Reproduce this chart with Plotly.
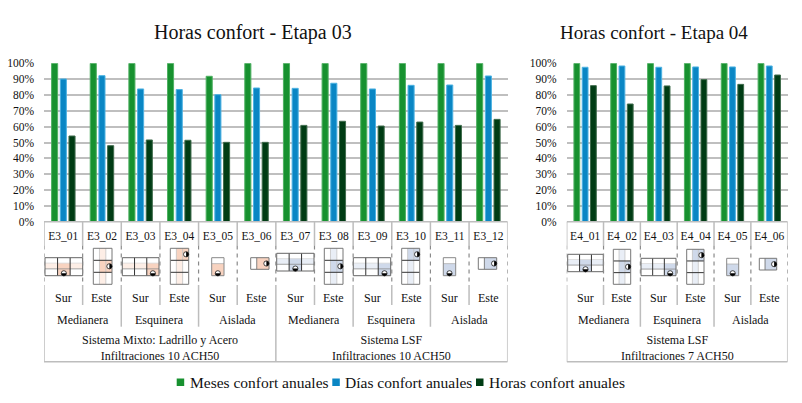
import plotly.graph_objects as go

W, H = 802, 403
OFF = 8  # the page keeps its 8px body margin
FONT = "Liberation Serif"

# data
labels_e3 = ["E3_01", "E3_02", "E3_03", "E3_04", "E3_05", "E3_06",
             "E3_07", "E3_08", "E3_09", "E3_10", "E3_11", "E3_12"]
meses_e3 = [100, 100, 100, 100, 91.8, 100, 100, 100, 100, 100, 100, 100]
dias_e3 = [90.1, 92.2, 83.8, 83.4, 80.2, 84.4, 84.2, 87.4, 83.8, 86.1, 86.3, 92]
horas_e3 = [54.1, 48, 51.6, 51.4, 50.1, 50.1, 60.8, 63.4, 60.4, 62.9, 60.8, 64.6]

labels_e4 = ["E4_01", "E4_02", "E4_03", "E4_04", "E4_05", "E4_06"]
meses_e4 = [100, 100, 100, 100, 100, 100]
dias_e4 = [97.5, 98.3, 97.5, 97.7, 97.7, 98.3]
horas_e4 = [85.9, 74.3, 85.7, 89.7, 86.7, 92.6]

orientaciones = ["Sur", "Este"]
tipologias = ["Medianera", "Esquinera", "Aislada"]
sistemas_e3 = ["Sistema Mixto: Ladrillo y Acero<br>Infiltraciones 10 ACH50",
               "Sistema LSF<br>Infiltraciones 10 ACH50"]
sistemas_e4 = ["Sistema LSF<br>Infiltraciones 7 ACH50"]
nombres = ["Meses confort anuales", "Días confort anuales", "Horas confort anuales"]

GREEN, BLUE, DARK = "#17912f", "#0a86c4", "#003c14"
GREEN_E, BLUE_E, DARK_E = "#4fb062", "#4db2e2", "#3f6b4c"

FIG_W, FIG_H = W - 2 * OFF, H - 2 * OFF


def px(x):
    return (x - OFF) / FIG_W


def py(y):
    return 1 - (y - OFF) / FIG_H


Y_TOP, Y_AXIS = 63.3, 221.7
Y_LBL, Y_DASH, Y_ORI, Y_TIP, Y_END = 245.5, 285, 305, 326.7, 361.7
ORANGE, ORANGE_L = "#f8d3c0", "#fdeee6"
LILAC, LILAC_L = "#cfd9ea", "#e9eef6"

# floor plan pictograms: x0, x1, y0, y1 (pixels), layout, cells, highlighted cell
plans_e3 = [
    (45, 82.7, 257.7, 275.7, "h", 3, 1, ORANGE, ORANGE_L),
    (93.3, 112, 248.3, 284.3, "v", 3, 1, ORANGE, ORANGE_L),
    (122.3, 159, 257.7, 275.7, "h", 3, 2, ORANGE, ORANGE_L),
    (170.3, 188.7, 248.3, 284.3, "v", 3, 0, ORANGE, ORANGE_L),
    (211.7, 224, 257.7, 275.7, "s", 1, 0, ORANGE, ORANGE_L),
    (250.7, 269, 257.7, 269.3, "e", 1, 0, ORANGE, ORANGE_L),
    (276.7, 314, 253.3, 271, "h", 3, 1, LILAC, LILAC_L),
    (324.3, 343, 248.3, 284.3, "v", 3, 1, LILAC, LILAC_L),
    (353.3, 390.7, 257.7, 275.7, "h", 3, 2, LILAC, LILAC_L),
    (401.7, 419.7, 248.3, 284.3, "v", 3, 0, LILAC, LILAC_L),
    (443.3, 455.7, 257.7, 275.7, "s", 1, 0, LILAC, LILAC_L),
    (478.3, 496.7, 257.7, 269.3, "e", 1, 0, LILAC, LILAC_L),
]
plans_e4 = [
    (567.7, 603.3, 254.3, 271.7, "h", 3, 1, LILAC, LILAC_L),
    (613.3, 630.7, 249.3, 284.3, "v", 3, 1, LILAC, LILAC_L),
    (641, 676, 258.3, 275.7, "h", 3, 2, LILAC, LILAC_L),
    (686.7, 704, 249.3, 284.3, "v", 3, 0, LILAC, LILAC_L),
    (726.7, 738.7, 258.3, 275.7, "s", 1, 0, LILAC, LILAC_L),
    (759.3, 776.7, 258.3, 270, "e", 1, 0, LILAC, LILAC_L),
]

shapes = []
annotations = []


def rect(x0, x1, y0, y1, fill=None, line=None, lw=1):
    shapes.append(dict(type="rect", xref="paper", yref="paper",
                       x0=px(x0), x1=px(x1), y0=py(y1), y1=py(y0),
                       fillcolor=fill or "rgba(0,0,0,0)",
                       line=dict(color=line or "rgba(0,0,0,0)", width=lw if line else 0)))


def seg(x0, x1, y0, y1, color, lw=1):
    shapes.append(dict(type="line", xref="paper", yref="paper",
                       x0=px(x0), x1=px(x1), y0=py(y0), y1=py(y1),
                       line=dict(color=color, width=lw)))


def label(x, y, text, size, xref="paper", xanchor="center"):
    annotations.append(dict(x=x, y=py(y), xref=xref, yref="paper", showarrow=False,
                            xanchor=xanchor, yanchor="middle", text=text,
                            font=dict(family=FONT, size=size, color="#111111")))


def sun_marker(cx, cy, side):
    # little half black circle, black half looks to the orientation
    r = 2.6
    shapes.append(dict(type="circle", xref="paper", yref="paper",
                       x0=px(cx - r), x1=px(cx + r), y0=py(cy + r), y1=py(cy - r),
                       fillcolor="white", line=dict(color="black", width=0.7)))
    if side == "s":
        pts = [(cx - r, cy), (cx - r * .87, cy + r * .5), (cx - r * .5, cy + r * .87), (cx, cy + r),
               (cx + r * .5, cy + r * .87), (cx + r * .87, cy + r * .5), (cx + r, cy)]
    else:
        pts = [(cx, cy - r), (cx + r * .5, cy - r * .87), (cx + r * .87, cy - r * .5), (cx + r, cy),
               (cx + r * .87, cy + r * .5), (cx + r * .5, cy + r * .87), (cx, cy + r)]
    path = "M" + "L".join(f"{px(a):.5f},{py(b):.5f}" for a, b in pts) + "Z"
    shapes.append(dict(type="path", xref="paper", yref="paper", path=path,
                       fillcolor="black", line=dict(width=0)))


def draw_plan(x0, x1, y0, y1, kind, n, hi, tint, tint_l):
    w, h = x1 - x0, y1 - y0
    if kind == "h":
        cw = w / n
        rect(x0, x1, y0 + h * .3, y0 + h * .62, fill=tint_l)
        rect(x0 + hi * cw, x0 + (hi + 1) * cw, y0 + h * .3, y1, fill=tint)
        seg(x0, x1, y0 + h * .3, y0 + h * .3, "#d9d9d9", .8)
        seg(x0, x1, y0 + h * .62, y0 + h * .62, "#8c8c8c", .8)
        for i in range(1, n):
            seg(x0 + i * cw, x0 + i * cw, y0, y1, "#333333", 1)
        rect(x0, x1, y0, y1, line="#666666")
        sun_marker(x0 + (hi + .5) * cw, y1 - 2.4, "s")
    elif kind == "v":
        ch = h / n
        rect(x0 + w * .33, x0 + w * .67, y0, y1, fill=tint_l)
        rect(x0 + w * .33, x1, y0 + hi * ch, y0 + (hi + 1) * ch, fill=tint)
        seg(x0 + w * .33, x0 + w * .33, y0, y1, "#c4c4c4", .8)
        seg(x0 + w * .67, x0 + w * .67, y0, y1, "#c4c4c4", .8)
        for i in range(1, n):
            seg(x0, x1, y0 + i * ch, y0 + i * ch, "#333333", 1)
        rect(x0, x1, y0, y1, line="#777777")
        sun_marker(x1 - 2.6, y0 + (hi + .5) * ch, "e")
    elif kind == "s":
        rect(x0, x1, y0 + h * .33, y1, fill=tint)
        seg(x0, x1, y0 + h * .33, y0 + h * .33, "#b0b0b0", .8)
        rect(x0, x1, y0, y1, line="#888888")
        sun_marker((x0 + x1) / 2, y1 - 2.4, "s")
    else:
        rect(x0 + w * .33, x1, y0, y1, fill=tint)
        seg(x0 + w * .33, x0 + w * .33, y0, y1, "#666666", .8)
        rect(x0, x1, y0, y1, line="#777777")
        sun_marker(x1 - 2.6, (y0 + y1) / 2, "e")


def draw_frame(xref, n_cat, sistemas, per_sys):
    """Lower hierarchical axis: separators tied to the category positions"""
    def vline(i, y0, y1, color="#bdbdbd", lw=1.5, dash="solid"):
        shapes.append(dict(type="line", xref=xref, yref="paper", x0=i - .5, x1=i - .5,
                           y0=py(y0), y1=py(y1), line=dict(color=color, width=lw, dash=dash)))

    for i in range(n_cat + 1):
        edge = i % per_sys == 0
        vline(i, Y_AXIS, Y_LBL)
        vline(i, Y_LBL, Y_DASH, color="#8a8a8a", lw=1.2, dash="4px,4px")
        if i % 2 == 0 or edge:
            vline(i, Y_DASH, Y_TIP if not edge else Y_END)
        else:
            vline(i, Y_DASH, Y_ORI)
    shapes.append(dict(type="line", xref=xref, yref="paper", x0=-.5, x1=n_cat - .5,
                       y0=py(Y_END), y1=py(Y_END), line=dict(color="#bdbdbd", width=1.5)))
    shapes.append(dict(type="line", xref=xref, yref="paper", x0=-.5, x1=n_cat - .5,
                       y0=py(Y_AXIS), y1=py(Y_AXIS), line=dict(color="#bdbdbd", width=1.5)))

    for i in range(n_cat):
        label(i, 298, orientaciones[i % 2], 12, xref=xref)
    for i in range(n_cat // 2):
        label(2 * i + .5, 319.5, tipologias[i % 3], 12, xref=xref)
    for i, txt in enumerate(sistemas):
        label(per_sys * i + per_sys / 2 - .5, 347.5, txt, 12, xref=xref)


fig = go.Figure()

series = [
    (nombres[0], meses_e3, meses_e4, GREEN, GREEN_E),
    (nombres[1], dias_e3, dias_e4, BLUE, BLUE_E),
    (nombres[2], horas_e3, horas_e4, DARK, DARK_E),
]
for name, v3, v4, col, edge in series:
    fig.add_trace(go.Bar(x=labels_e3, y=v3, name=name, xaxis="x", yaxis="y", showlegend=False,
                         marker=dict(color=col, line=dict(color=edge, width=1))))
    fig.add_trace(go.Bar(x=labels_e4, y=v4, name=name, xaxis="x2", yaxis="y2", showlegend=False,
                         marker=dict(color=col, line=dict(color=edge, width=1))))

for p in plans_e3 + plans_e4:
    draw_plan(*p)
draw_frame("x", len(labels_e3), sistemas_e3, 6)
draw_frame("x2", len(labels_e4), sistemas_e4, 6)

label(px(252.5), 32, "Horas confort - Etapa 03", 20)
label(px(654), 32, "Horas confort - Etapa 04", 19)

# legend, small squares like the original
for name, col, x_sq in zip(nombres, [GREEN, BLUE, DARK], [176.7, 332.3, 476]):
    rect(x_sq, x_sq + 7.5, 378.5, 386, fill=col)
    label(px(x_sq + 11), 382, name, 15.5, xanchor="left")

yaxis_style = dict(range=[0, 100], dtick=10, ticksuffix="%", showgrid=True, gridcolor="#bfbfbf",
                   gridwidth=1.5, zeroline=False, showline=False, ticks="", ticklabelstandoff=9,
                   domain=[py(Y_AXIS), py(Y_TOP)],
                   tickfont=dict(family=FONT, size=11.5, color="#111111"))
xaxis_style = dict(type="category", showgrid=False, showline=False, ticks="", ticklabelstandoff=6,
                   tickangle=0, tickfont=dict(family=FONT, size=11.5, color="#111111"))

fig.update_layout(
    width=FIG_W, height=FIG_H, autosize=False,
    margin=dict(l=0, r=0, t=0, b=0, autoexpand=False),
    paper_bgcolor="white", plot_bgcolor="white",
    barmode="group", bargap=0.325, bargroupgap=0.3,
    showlegend=False,
    xaxis=dict(domain=[px(44), px(507.7)], range=[-.5, 11.5], **xaxis_style),
    yaxis=dict(anchor="x", **yaxis_style),
    xaxis2=dict(domain=[px(566.7), px(787.7)], range=[-.5, 5.5], anchor="y2", **xaxis_style),
    yaxis2=dict(anchor="x2", **yaxis_style),
    shapes=shapes,
    annotations=annotations,
)

fig.write_html("out.html")
